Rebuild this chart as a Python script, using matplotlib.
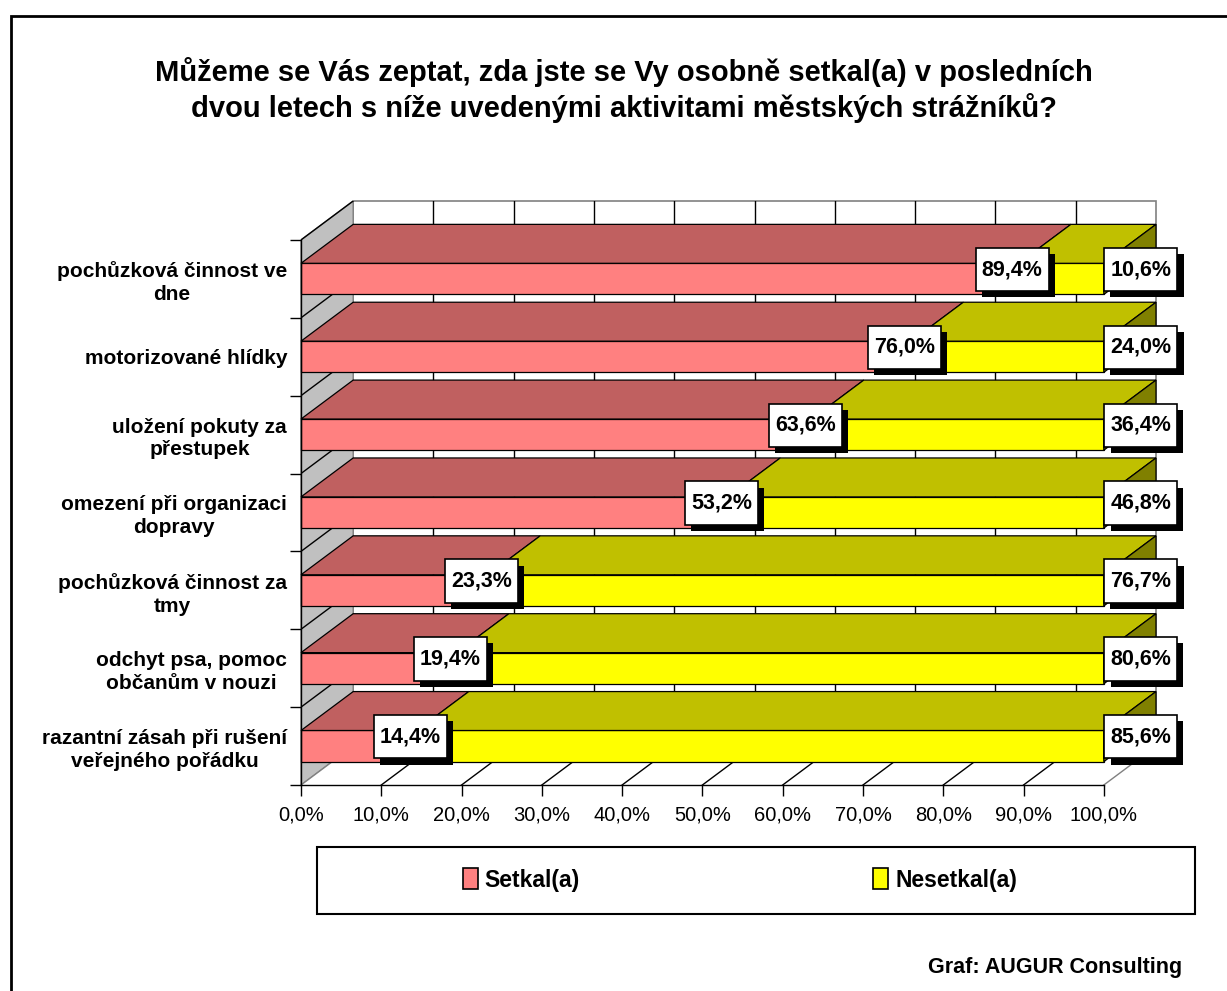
import matplotlib
matplotlib.use("Agg")
import matplotlib.pyplot as plt
from matplotlib.patches import Polygon, Rectangle
from matplotlib.path import Path
import matplotlib.patheffects as pe

plt.rcParams['font.family'] = ['Liberation Sans', 'DejaVu Sans']

# data
categories = [
    "pochůzková činnost ve\ndne",
    "motorizované hlídky",
    "uložení pokuty za\npřestupek",
    "omezení při organizaci\ndopravy",
    "pochůzková činnost za\ntmy",
    "odchyt psa, pomoc\nobčanům v nouzi",
    "razantní zásah při rušení\nveřejného pořádku",
]
setkal = [89.4, 76.0, 63.6, 53.2, 23.3, 19.4, 14.4]
nesetkal = [10.6, 24.0, 36.4, 46.8, 76.7, 80.6, 85.6]
series_names = ["Setkal(a)", "Nesetkal(a)"]
x_ticks = [0, 10, 20, 30, 40, 50, 60, 70, 80, 90, 100]
x_ticklabels = [("%.1f%%" % v).replace(".", ",") for v in x_ticks]

title = ("Můžeme se Vás zeptat, zda jste se Vy osobně setkal(a) v posledních\n"
         "dvou letech s níže uvedenými aktivitami městských strážníků?")
credit = "Graf: AUGUR Consulting"

# 3d look
DX = 6.5      # depth offset in x units
DY = 0.5      # depth offset in category units
BAR_H = 0.4

pink_front, pink_top = "#FF8080", "#C06060"
yel_front, yel_top, yel_side = "#FFFF00", "#C0C000", "#808000"
wall_gray = "#C0C0C0"

W, H = 1227, 991
fig = plt.figure(figsize=(W / 100, H / 100), dpi=100)

# outer frame of the chart area
fig.patches.append(Rectangle((11 / W, -0.05), 1.2, 1 - 16 / H + 0.05,
                             transform=fig.transFigure, fill=False,
                             edgecolor="black", linewidth=2))

ax = fig.add_axes([301 / W, (H - 785) / H, 855 / W, 584 / H])
ax.set_xlim(0, 100 + DX)
ax.set_ylim(-0.5, len(categories) + DY - 0.5)
ax.patch.set_visible(False)

n = len(categories)
ymin, ymax = -0.5, n - 0.5

def poly(pts, fc, ec="black", lw=0.9, z=1):
    p = Polygon(pts, closed=True, facecolor=fc, edgecolor=ec, linewidth=lw,
                zorder=z, clip_on=False, joinstyle="miter")
    ax.add_patch(p)

# back wall
poly([(DX, ymin + DY), (100 + DX, ymin + DY), (100 + DX, ymax + DY), (DX, ymax + DY)],
     "white", ec="#808080", lw=1.2, z=0.5)
for v in x_ticks[1:-1]:
    ax.plot([v + DX, v + DX], [ymin + DY, ymax + DY], color="black", lw=1.0, zorder=0.6)

# side wall
poly([(0, ymin), (DX, ymin + DY), (DX, ymax + DY), (0, ymax)], wall_gray, ec="#808080", lw=1.0, z=0.5)
for k in range(1, n + 1):
    b = ymin + k
    ax.plot([0, DX], [b, b + DY], color="black", lw=1.0, zorder=0.6)

# floor
poly([(0, ymin), (100, ymin), (100 + DX, ymin + DY), (DX, ymin + DY)], "white", ec="none", z=0.5)
for v in x_ticks:
    c = "black" if 0 < v < 100 else "#808080"
    ax.plot([v, v + DX], [ymin, ymin + DY], color=c, lw=1.0, zorder=0.6)

# bars, top row first
for i, (s, ns) in enumerate(zip(setkal, nesetkal)):
    y = n - 1 - i
    y0, y1 = y - BAR_H / 2, y + BAR_H / 2
    z = 2 + i * 0.1
    total = s + ns
    # setkal
    poly([(0, y0), (s, y0), (s, y1), (0, y1)], pink_front, z=z)
    poly([(0, y1), (s, y1), (s + DX, y1 + DY), (DX, y1 + DY)], pink_top, z=z)
    # nesetkal
    poly([(s, y0), (total, y0), (total, y1), (s, y1)], yel_front, z=z + 0.01)
    poly([(s, y1), (total, y1), (total + DX, y1 + DY), (s + DX, y1 + DY)], yel_top, z=z + 0.01)
    poly([(total, y0), (total + DX, y0 + DY), (total + DX, y1 + DY), (total, y1)], yel_side, z=z + 0.01)


def label_box(x0, y0, width, height, mutation_size):
    # square box, wider padding top/bottom than left/right
    px, py = 0.28 * mutation_size, 0.52 * mutation_size
    x0, x1 = x0 - px, x0 + width + px
    y0, y1 = y0 - py, y0 + height + py
    return Path([(x0, y0), (x1, y0), (x1, y1), (x0, y1), (x0, y0)], closed=True)


# data labels
shadow = [pe.withSimplePatchShadow(offset=(4.5, -4.5), shadow_rgbFace="black", alpha=1.0)]
for i, (s, ns) in enumerate(zip(setkal, nesetkal)):
    y = n - 1 - i + 0.12
    for xv, val in [(s - 0.8, s), (100 + 4.6, ns)]:
        t = ax.text(xv, y, ("%.1f%%" % val).replace(".", ","), ha="center", va="center",
                    fontsize=15.5, fontweight="bold", zorder=10,
                    bbox=dict(boxstyle=label_box, facecolor="white",
                              edgecolor="black", linewidth=1.2))
        t.get_bbox_patch().set_path_effects(shadow)

# axes, ticks
for side in ["top", "right"]:
    ax.spines[side].set_visible(False)
ax.spines["left"].set_bounds(ymin, ymax)
ax.spines["bottom"].set_bounds(0, 100)
for side in ["left", "bottom"]:
    ax.spines[side].set_zorder(3)
    ax.spines[side].set_linewidth(1.0)

ax.set_xticks(x_ticks)
ax.set_xticklabels(x_ticklabels, fontsize=14.5)
ax.tick_params(axis="x", length=8, width=1.0, pad=7)

ax.set_yticks([ymin + k for k in range(n + 1)])
ax.set_yticklabels([])
ax.set_yticks([n - 1 - i for i in range(n)], minor=True)
ax.set_yticklabels(categories, minor=True, fontsize=15, fontweight="bold",
                   multialignment="center", linespacing=1.25)
ax.tick_params(axis="y", which="major", length=8, width=1.0)
ax.tick_params(axis="y", which="minor", length=0, pad=10)

# title
fig.text(624 / W, 1 - 90 / H, title, ha="center", va="center", fontsize=21,
         fontweight="bold", linespacing=1.22)

# legend
fig.patches.append(Rectangle((317 / W, 1 - 914 / H), (1195 - 317) / W, 67 / H,
                             transform=fig.transFigure, fill=True, facecolor="white",
                             edgecolor="black", linewidth=1.5))
handles = [Rectangle((0, 0), 1, 1, facecolor=pink_front, edgecolor="black", linewidth=1.2),
           Rectangle((0, 0), 1, 1, facecolor=yel_front, edgecolor="black", linewidth=1.2)]
fig.legend(handles, series_names, loc="center", bbox_to_anchor=(740 / W, 1 - 880 / H),
           ncol=2, frameon=False, prop=dict(size=16.5, weight="bold"),
           handlelength=0.65, handleheight=1.0, handletextpad=0.3, columnspacing=12.8)

fig.text(1182 / W, 1 - 968 / H, credit, ha="right", va="center", fontsize=15.5,
         fontweight="bold")

fig.savefig("out.png", dpi=100)
